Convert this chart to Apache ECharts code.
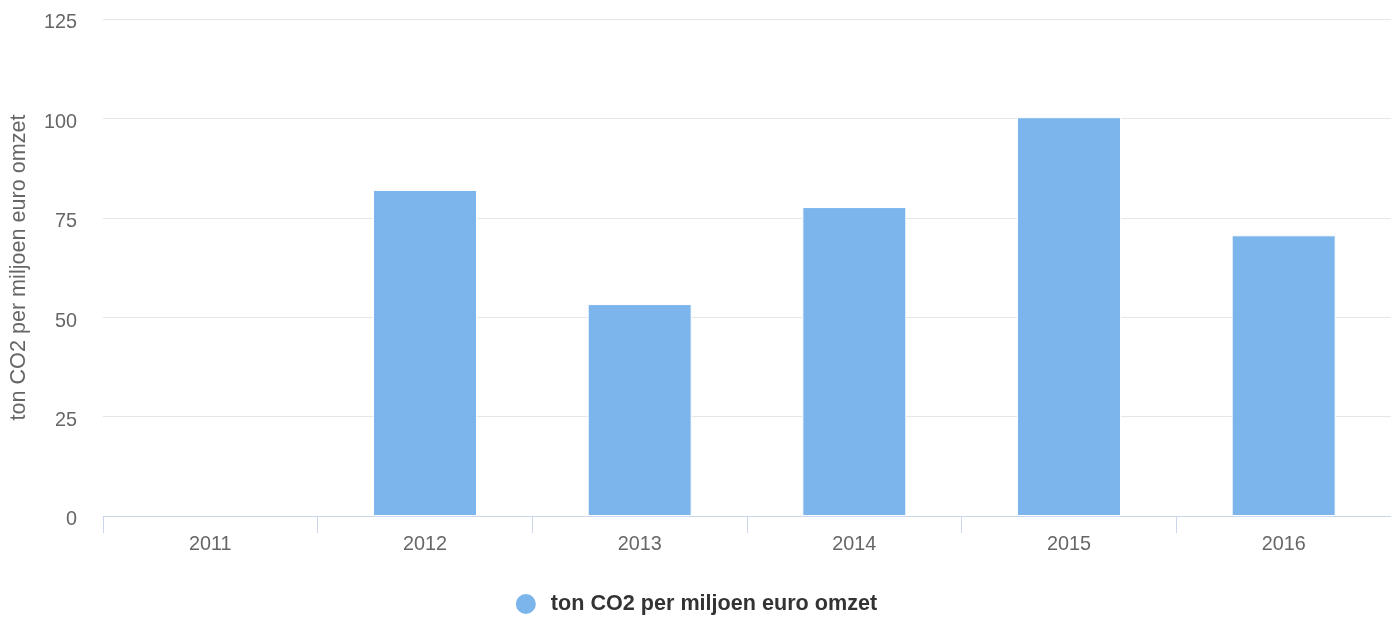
<!DOCTYPE html>
<html><head><meta charset="utf-8">
<script src="https://cdn.jsdelivr.net/npm/echarts@6/dist/echarts.min.js"></script>
<style>html,body{margin:0;padding:0;background:#fff}#c{width:1391px;height:617px}</style>
</head><body><div id="c"></div>
<script>
const categories = ['2011','2012','2013','2014','2015','2016'];
const values = [null, 82.0, 53.3, 77.7, 100.3, 70.6];
const seriesName = 'ton CO2 per miljoen euro omzet';
const yAxisName = 'ton CO2 per miljoen euro omzet';
const font = '"Liberation Sans", Helvetica, Arial, sans-serif';
const chart = echarts.init(document.getElementById('c'));
chart.setOption({
  animation: false,
  textStyle: {fontFamily: font},
  grid: {left: 103, right: 0, top: 19, bottom: 101, containLabel: false},
  legend: {
    top: 592, left: 'center', icon: 'circle', itemWidth: 22, itemHeight: 22, itemGap: 10, padding: 0,
    textStyle: {fontSize: 21.6, fontWeight: 'bold', color: '#333333', fontFamily: font, padding: [0, 0, 0, 9]},
    data: [seriesName]
  },
  xAxis: {
    type: 'category', data: categories,
    axisLine: {lineStyle: {color: '#ccd6eb', width: 1}},
    axisTick: {show: true, length: 17, lineStyle: {color: '#ccd6eb'}},
    axisLabel: {color: '#666666', fontSize: 19.8, margin: 19, fontFamily: font}
  },
  yAxis: {
    type: 'value', min: 0, max: 125, interval: 25,
    name: yAxisName, nameLocation: 'middle', nameGap: 73,
    nameTextStyle: {color: '#666666', fontSize: 21.6, fontFamily: font},
    axisLine: {show: false}, axisTick: {show: false},
    axisLabel: {color: '#666666', fontSize: 19.8, margin: 26, fontFamily: font, verticalAlign: 'top', lineHeight: 8},
    splitLine: {lineStyle: {color: '#e6e6e6', width: 1}}
  },
  series: [{
    name: seriesName, type: 'bar', data: values, barWidth: 104,
    itemStyle: {color: '#7cb5ec', borderColor: '#ffffff', borderWidth: 1}
  }]
});
</script></body></html>
